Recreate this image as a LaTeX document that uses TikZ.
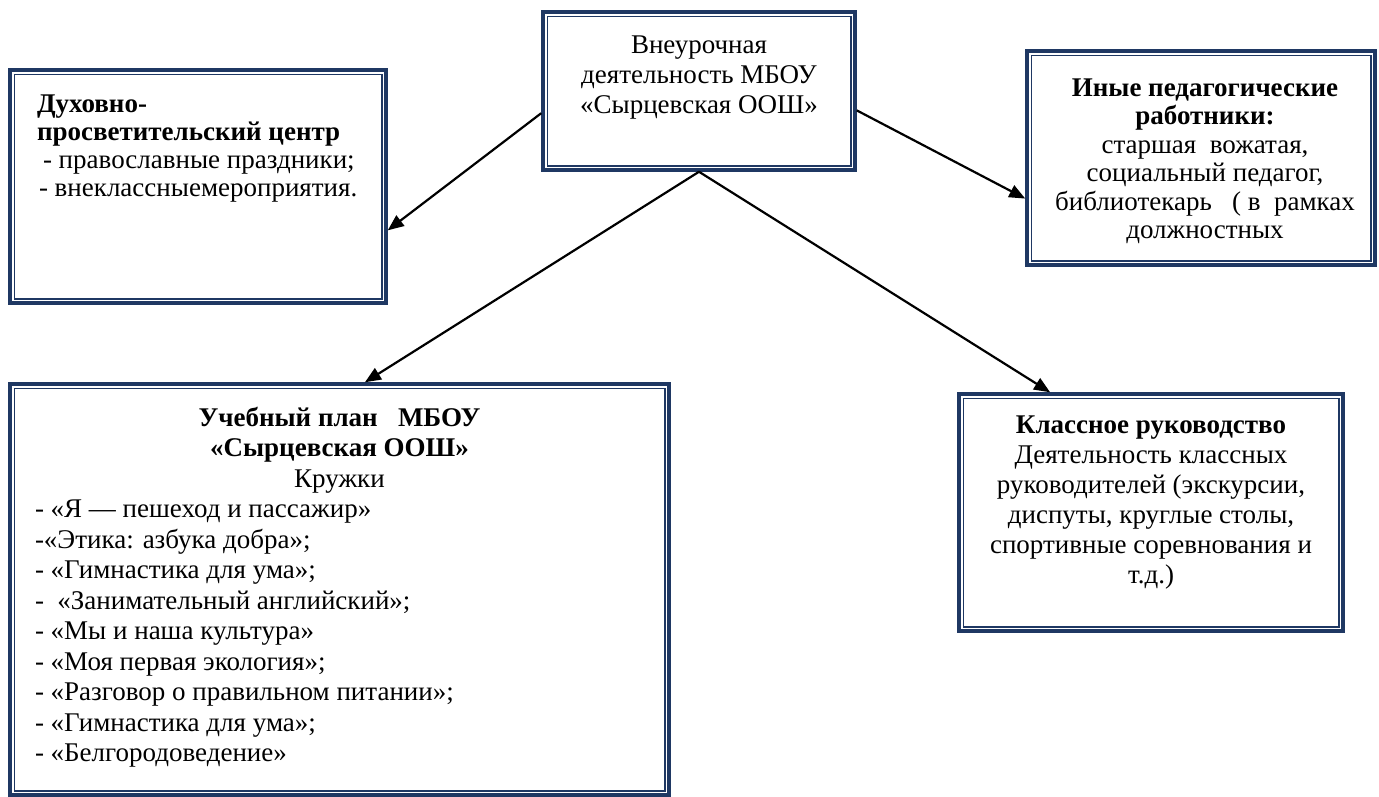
\documentclass[tikz,border=0pt]{standalone}
\usepackage{fontspec}
\setmainfont{Liberation Serif}
\usepackage{xcolor}
\definecolor{frameblue}{RGB}{31,56,99}
\usetikzlibrary{arrows.meta,calc}
% fixed-size text box, content hangs from the top
\newcommand{\inbox}[4]{\begin{minipage}[c][#2][t]{#1}\vspace*{#3}\rule{0pt}{20pt}#4\par\end{minipage}}
\tikzset{
  frame/.style={draw=frameblue, line width=3.5pt, inner sep=0pt},
  innerframe/.style={draw=frameblue, line width=1.5pt},
  arr/.style={-{Triangle[length=16pt,width=13pt]}, line width=2.2pt}
}
\begin{document}
\begin{tikzpicture}[x=1pt, y=-1pt]
  \useasboundingbox (0,0) rectangle (1379,796);
  \node[frame, font=\fontsize{27}{30}\selectfont] (main) at (699,91)
    {\inbox{312pt}{158pt}{21pt}{\centering Внеурочная\\ деятельность МБОУ\\ «Сырцевская ООШ»}};
  \node[frame, font=\fontsize{27}{28}\selectfont] (dux) at (198,186.5)
    {\inbox{376pt}{233pt}{22pt}{\leftskip=27pt \textbf{Духовно-}\\ \textbf{просветительский центр}\\ \hspace*{6pt}- православные праздники;\\ \hspace*{2pt}- внеклассныемероприятия.}};
  \node[frame, font=\fontsize{27}{28.5}\selectfont] (inye) at (1201,158)
    {\inbox{348pt}{214pt}{25pt}{\centering\leftskip=8pt plus 1fil \textbf{Иные педагогические}\\ \textbf{работники:}\\ старшая\ \ вожатая,\\ социальный педагог,\\ библиотекарь\ \ \ ( в\ \ рамках\\ должностных}};
  \node[frame, font=\fontsize{27}{30.5}\selectfont] (plan) at (339.5,589.5)
    {\inbox{659pt}{411pt}{22pt}{\centering \textbf{Учебный план\ \ \ МБОУ}\\ \textbf{«Сырцевская ООШ»}\\ Кружки\par
      \raggedright\leftskip=25pt
      - «Я — пешеход и пассажир»\\ -«Этика: азбука добра»;\\ - «Гимнастика для ума»;\\ -\ \ «Занимательный английский»;\\ - «Мы и наша культура»\\ - «Моя первая экология»;\\ - «Разговор о правильном питании»;\\ - «Гимнастика для ума»;\\ - «Белгородоведение»}};
  \node[frame, font=\fontsize{27}{30}\selectfont] (klass) at (1151,512.5)
    {\inbox{384pt}{237pt}{19pt}{\centering \textbf{Классное руководство}\\ Деятельность классных\\ руководителей (экскурсии,\\ диспуты, круглые столы,\\ спортивные соревнования и\\ т.д.)}};
  % thin inner line of each frame
  \foreach \n in {main,dux,inye,plan,klass}
    \draw[innerframe] ($(\n.north west)+(6,6)$) rectangle ($(\n.south east)+(-6,-6)$);
  \draw[arr] (main.188) -- (dux.-13);
  \draw[arr] (main.-7) -- (inye.193);
  \draw[arr] (main.south) -- (plan.83);
  \draw[arr] (main.south) -- (klass.130);
\end{tikzpicture}
\end{document}
